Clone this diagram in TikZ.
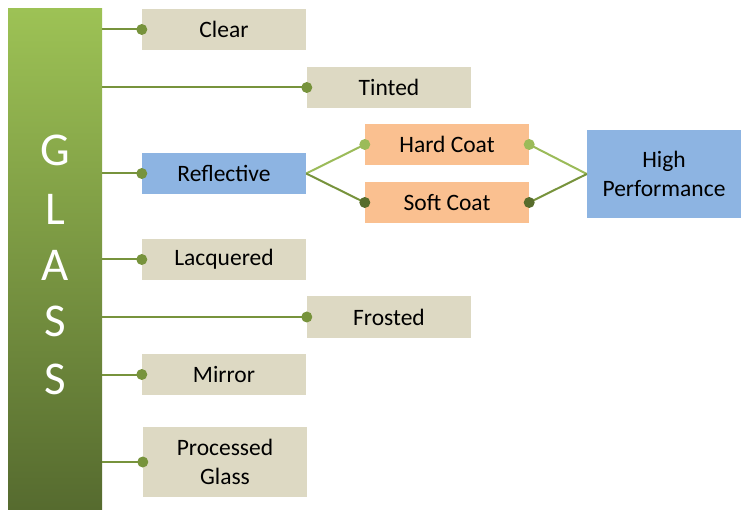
\documentclass[tikz,border=0pt]{standalone}
\usepackage{fontspec}
\setmainfont{Carlito}
\definecolor{beige}{HTML}{DDD9C3}
\definecolor{bluebox}{HTML}{8DB4E2}
\definecolor{orangebox}{HTML}{FAC090}
\definecolor{linegreen}{HTML}{77933C}
\definecolor{lightgreen}{HTML}{9BBB59}
\definecolor{darkgreen}{HTML}{4F6228}
\definecolor{bartop}{HTML}{9DC255}
\definecolor{barbot}{HTML}{566B2F}
\tikzset{
  itembox/.style={fill=beige, minimum width=164pt, minimum height=41pt, inner sep=0pt, align=center, font=\fontsize{23.5}{28.5}\selectfont},
  bluebx/.style={itembox, fill=bluebox},
  orangebx/.style={itembox, fill=orangebox},
  conn/.style={draw=linegreen, line width=2pt},
  letter/.style={text=white, font=\fontsize{47}{52}\selectfont, inner sep=0pt}
}
\begin{document}
\begin{tikzpicture}[x=1pt,y=-1pt]
\useasboundingbox (0,0) rectangle (741,510);
\node[top color=bartop, bottom color=barbot, minimum width=94pt, minimum height=500pt, inner sep=0pt] (bar) at (55,259) {};
\node[letter] (g) at (55,150) {G};
\node[letter] (l) at (55,209) {L};
\node[letter] (a) at (55,265) {A};
\node[letter] (s1) at (55,321) {S};
\node[letter] (s2) at (55,379) {S};

\node[itembox] (clear) at (224,29.5) {Clear};
\node[itembox] (tinted) at (389,87.5) {Tinted};
\node[bluebx] (refl) at (224,173.5) {Reflective};
\node[orangebx] (hard) at (447,144.5) {Hard Coat};
\node[orangebx] (soft) at (447,202.5) {Soft Coat};
\node[bluebx, minimum width=154pt, minimum height=88pt] (hp) at (664,174) {High\\Performance};
\node[itembox] (lacq) at (224,259.5) {Lacquered};
\node[itembox] (frost) at (389,317) {Frosted};
\node[itembox] (mirror) at (224,374.5) {Mirror};
\node[itembox, minimum height=70pt] (proc) at (225,462) {Processed\\Glass};

\foreach \n in {clear,tinted,refl,lacq,frost,mirror,proc}{
  \draw[conn] (bar.east |- \n.west) -- (\n.west);
  \fill[linegreen] (\n.west) circle (5.5pt);
}
\draw[conn, draw=lightgreen] (refl.east) -- (hard.west);
\draw[conn] (refl.east) -- (soft.west);
\draw[conn, draw=lightgreen] (hard.east) -- (hp.west);
\draw[conn] (soft.east) -- (hp.west);
\fill[lightgreen] (hard.west) circle (5.5pt);
\fill[lightgreen] (hard.east) circle (5.5pt);
\fill[darkgreen!80!linegreen] (soft.west) circle (5.5pt);
\fill[darkgreen!80!linegreen] (soft.east) circle (5.5pt);
\end{tikzpicture}
\end{document}
